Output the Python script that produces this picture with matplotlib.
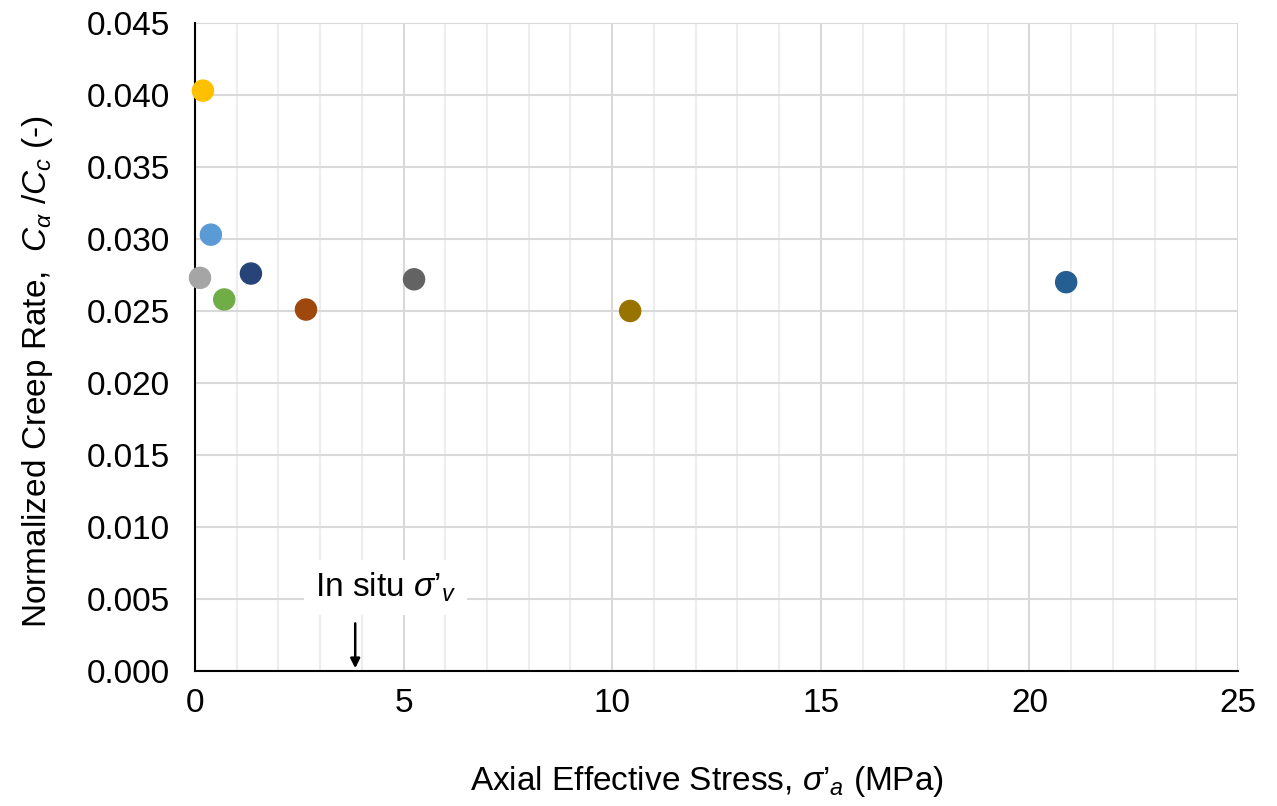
import numpy as np
import matplotlib.pyplot as plt
from matplotlib.ticker import MultipleLocator

plt.rcParams['font.family'] = ['Liberation Sans', 'DejaVu Sans']
plt.rcParams['mathtext.fontset'] = 'custom'
plt.rcParams['mathtext.rm'] = 'Liberation Sans'
plt.rcParams['mathtext.it'] = 'Liberation Sans:italic'
plt.rcParams['mathtext.bf'] = 'Liberation Sans:bold'

# stress (MPa) and normalized creep rate for each load step
stress = [0.12, 0.19, 0.38, 0.70, 1.34, 2.66, 5.25, 10.43, 20.88]
creep_ratio = [0.0273, 0.0403, 0.0303, 0.0258, 0.0276, 0.0251, 0.0272, 0.0250, 0.0270]
colors = ['#A5A5A5', '#FFC000', '#5B9BD5', '#70AD47', '#264478',
          '#9E480E', '#636363', '#997300', '#255E91']

insitu_stress = 3.84

fig = plt.figure(figsize=(12.77, 8.06), dpi=100)
ax = fig.add_axes([0.1527, 0.1675, 0.8168, 0.804])

ax.scatter(stress, creep_ratio, s=230, c=colors, zorder=3, clip_on=False)

ax.set_xlim(0, 25)
ax.set_ylim(0, 0.045)
ax.xaxis.set_major_locator(MultipleLocator(5))
ax.xaxis.set_minor_locator(MultipleLocator(1))
ax.yaxis.set_major_locator(MultipleLocator(0.005))
ax.yaxis.set_major_formatter(plt.FuncFormatter(lambda v, p: f'{v:.3f}'))

ax.grid(True, which='major', color='#D9D9D9', linewidth=1.5, zorder=0)
ax.grid(True, which='minor', axis='x', color='#EDEDED', linewidth=1.5, zorder=0)
ax.set_axisbelow(True)

for s in ['top', 'right']:
    ax.spines[s].set_visible(False)
for s in ['left', 'bottom']:
    ax.spines[s].set_color('black')
    ax.spines[s].set_linewidth(1.5)

ax.tick_params(which='both', length=0, labelsize=24)
ax.tick_params(axis='x', pad=12)
ax.tick_params(axis='y', pad=18)

ax.set_xlabel("Axial Effective Stress, $\\mathit{σ’}_{\\mathit{a}}$ (MPa)", fontsize=24)
ax.set_ylabel("Normalized Creep Rate,  $\\mathit{C}_{\\mathit{α}}$ /$\\mathit{C}_{\\mathit{c}}$ (-)",
              fontsize=24)
ax.xaxis.set_label_coords(0.491, -0.1435)
ax.yaxis.set_label_coords(-0.134, 0.462)

ax.annotate('', xy=(insitu_stress, 0), xytext=(insitu_stress, 0.0035),
            arrowprops=dict(arrowstyle='-|>', color='black', lw=1.8, mutation_scale=14),
            zorder=5)
ax.text(insitu_stress + 0.72, 0.0058, "In situ $\\mathit{σ’}_{\\mathit{v}}$", fontsize=24,
        ha='center', va='center', zorder=4,
        bbox=dict(facecolor='white', edgecolor='none', pad=8))

fig.savefig('out.png', dpi=100)
